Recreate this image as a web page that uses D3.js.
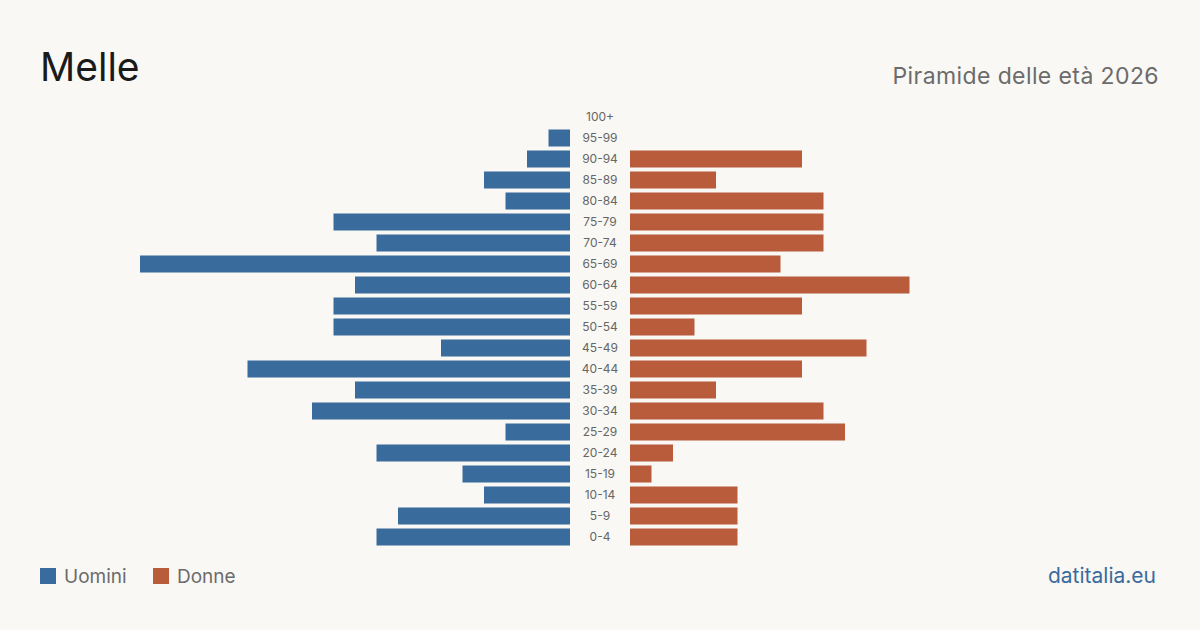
<!DOCTYPE html>
<html><head><meta charset="utf-8">
<script src="https://cdn.jsdelivr.net/npm/d3@7"></script>
<style>body{margin:0;background:#f9f8f4;}svg{display:block;font-family:Inter,"Noto Sans",sans-serif;}</style>
</head><body><svg id="c" width="1200" height="630"></svg>
<script>
const ages = ["100+","95-99","90-94","85-89","80-84","75-79","70-74","65-69","60-64","55-59","50-54","45-49","40-44","35-39","30-34","25-29","20-24","15-19","10-14","5-9","0-4"];
const males =   [0,1,2,4,3,11,9,20,10,11,11,6,15,10,12,3,9,5,4,8,9];
const females = [0,0,8,4,9,9,9,7,13,8,3,11,8,4,9,10,2,1,5,5,5];
const title = "Melle";
const subtitle = "Piramide delle età 2026";
const legendLabels = ["Uomini","Donne"];
const source = "datitalia.eu";

const svg = d3.select("#c");
svg.append("rect").attr("width",1200).attr("height",630).attr("fill","#f9f8f4");
const blue = "#3a6b9d", red = "#b95c3c";
const y = d3.scaleBand().domain(ages).range([106.5,547.5]).paddingInner(0.19).paddingOuter(0.095);
const maxV = d3.max([...males,...females]);
const x = d3.scaleLinear().domain([0,maxV]).range([0,430]);
const cxL = 570, cxR = 630;

svg.selectAll(".m").data(ages).join("rect")
  .attr("x",(d,i)=>cxL - x(males[i])).attr("y",d=>y(d))
  .attr("width",(d,i)=>x(males[i])).attr("height",y.bandwidth()).attr("fill",blue);
svg.selectAll(".f").data(ages).join("rect")
  .attr("x",cxR).attr("y",d=>y(d))
  .attr("width",(d,i)=>x(females[i])).attr("height",y.bandwidth()).attr("fill",red);
svg.selectAll(".lab").data(ages).join("text")
  .attr("x",600).attr("y",d=>y(d)+y.bandwidth()/2).attr("dy","0.35em")
  .attr("text-anchor","middle").attr("font-size",12).attr("fill","#666").text(d=>d);

svg.append("text").attr("x",40).attr("y",81).attr("font-size",39).attr("fill","#1a1a1a").text(title);
svg.append("text").attr("x",1159).attr("y",84).attr("text-anchor","end").attr("font-size",23).attr("letter-spacing",0.4).attr("fill","#6b6b6b").text(subtitle);

const lg = svg.append("g");
[[40,blue],[153,red]].forEach((p,i)=>{
  lg.append("rect").attr("x",p[0]).attr("y",568).attr("width",16).attr("height",16).attr("fill",p[1]);
  lg.append("text").attr("x",p[0]+24).attr("y",583).attr("font-size",19).attr("fill","#6b6b6b").text(legendLabels[i]);
});
svg.append("text").attr("x",1156).attr("y",583).attr("text-anchor","end").attr("font-size",21).attr("fill",blue).text(source);
</script></body></html>
